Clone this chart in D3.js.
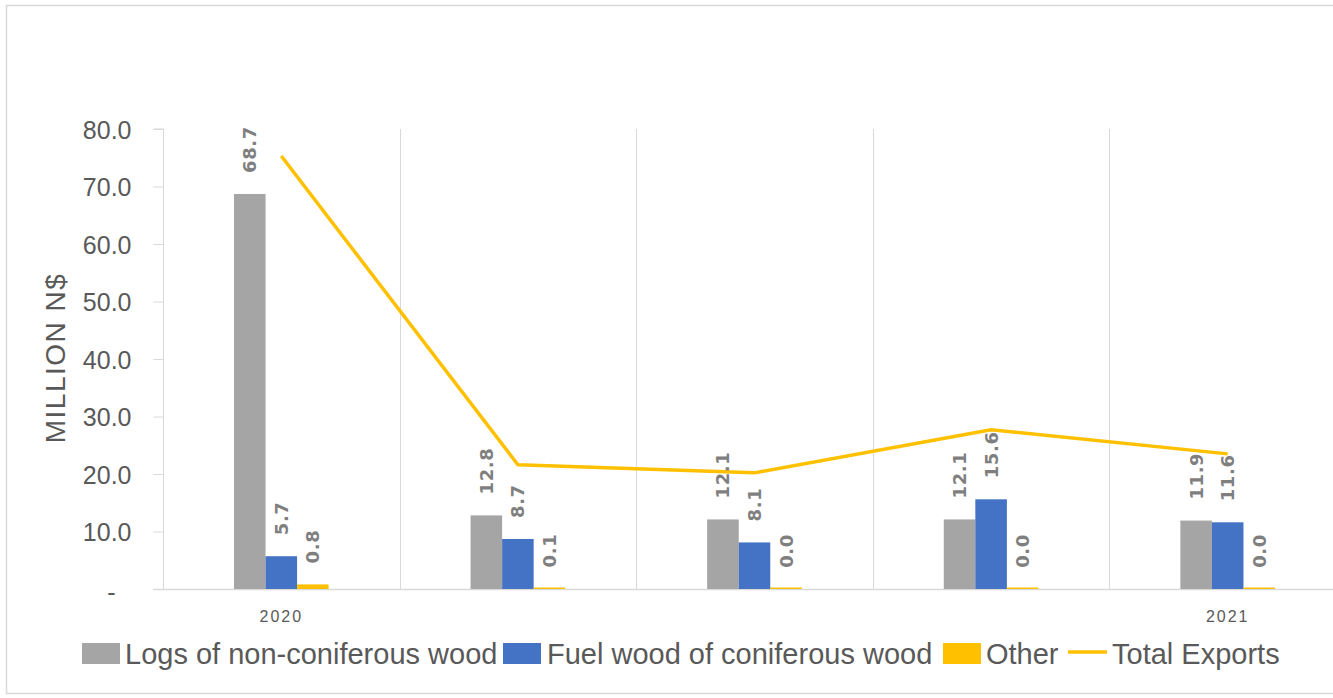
<!DOCTYPE html>
<html>
<head>
<meta charset="utf-8">
<script src="https://cdn.jsdelivr.net/npm/d3@7"></script>
<style>
  html, body { margin: 0; padding: 0; background: #ffffff; }
  svg { display: block; }
</style>
</head>
<body>
<svg id="chart" width="1333" height="698"></svg>
<script>
// ---- data ----
const periods = ["P1", "P2", "P3", "P4", "P5"];
const periodLabels = ["2020", "", "", "", "2021"];
const seriesNames = ["Logs of non-coniferous wood", "Fuel wood of coniferous wood", "Other"];
const logsNonConiferous = [68.7, 12.8, 12.1, 12.1, 11.9];
const fuelWoodConiferous = [5.7, 8.7, 8.1, 15.6, 11.6];
const otherExports = [0.8, 0.1, 0.04, 0.04, 0.04];
const totalExports = [75.3, 21.6, 20.2, 27.7, 23.5];
const yTicks = [0, 10, 20, 30, 40, 50, 60, 70, 80];
const lineName = "Total Exports";

const colors = ["#a5a5a5", "#4472c4", "#ffc000"];
const lineColor = "#ffc000";
const seriesValues = [logsNonConiferous, fuelWoodConiferous, otherExports];

const svg = d3.select("#chart");

// outer border
svg.append("rect")
  .attr("x", 6.5).attr("y", 5.5).attr("width", 1345).attr("height", 688)
  .attr("fill", "#fff").attr("stroke", "#d9d9d9").attr("stroke-width", 1.5);

const plot = { left: 163, right: 1346, top: 129, bottom: 589 };

const x = d3.scaleBand().domain(periods).range([plot.left, plot.right]).padding(0);
const bw = x.bandwidth();
const x1 = d3.scaleBand().domain(seriesNames).range([bw * 0.3, bw * 0.7]).padding(0);
const y = d3.scaleLinear().domain([0, 80]).range([plot.bottom, plot.top]);

// vertical gridlines at category boundaries
svg.append("g").selectAll("line")
  .data(periods.slice(1))
  .join("line")
  .attr("x1", d => Math.round(x(d)) + 0.5).attr("x2", d => Math.round(x(d)) + 0.5)
  .attr("y1", plot.top).attr("y2", plot.bottom)
  .attr("stroke", "#d9d9d9").attr("stroke-width", 1);

// y axis
const yAxis = d3.axisLeft(y)
  .tickValues(yTicks)
  .tickSize(10)
  .tickPadding(22)
  .tickFormat(d => d === 0 ? "-" : d.toFixed(1));
const yg = svg.append("g")
  .attr("transform", `translate(${plot.left + 0.5},0)`)
  .call(yAxis);
yg.select(".domain").attr("stroke", "#d9d9d9").attr("d", `M-10,${plot.top}H0V${plot.bottom}`);
yg.selectAll(".tick line").attr("stroke", "#d9d9d9");
yg.selectAll(".tick text")
  .attr("fill", "#595959")
  .style("font-family", "'Liberation Sans', Arial, sans-serif")
  .style("font-size", "25px")
  .attr("dy", "0.36em");
yg.selectAll(".tick").filter(d => d === 0).select("text").attr("x", -48).attr("dy", "0.45em");

// x axis line
svg.append("line")
  .attr("x1", plot.left - 10).attr("x2", 1333)
  .attr("y1", plot.bottom + 0.5).attr("y2", plot.bottom + 0.5)
  .attr("stroke", "#d9d9d9").attr("stroke-width", 1.5);

// x labels
svg.append("g").selectAll("text")
  .data(periods)
  .join("text")
  .attr("x", d => x(d) + bw / 2)
  .attr("y", 622)
  .attr("text-anchor", "middle")
  .attr("fill", "#595959")
  .style("font-family", "'Liberation Sans', Arial, sans-serif")
  .style("font-size", "16px")
  .style("letter-spacing", "2px")
  .text((d, i) => periodLabels[i]);

// bars
const barData = [];
periods.forEach((p, i) => {
  seriesNames.forEach((s, j) => {
    barData.push({ p, s, j, v: seriesValues[j][i] });
  });
});

svg.append("g").selectAll("rect")
  .data(barData)
  .join("rect")
  .attr("x", d => x(d.p) + x1(d.s))
  .attr("width", x1.bandwidth())
  .attr("y", d => Math.min(y(d.v), y(0) - 1.5))
  .attr("height", d => Math.max(y(0) - y(d.v), 1.5))
  .attr("fill", d => colors[d.j]);

// total line
const line = d3.line()
  .x((d, i) => x(periods[i]) + bw / 2)
  .y(d => y(d));
svg.append("path")
  .datum(totalExports)
  .attr("d", line)
  .attr("fill", "none")
  .attr("stroke", lineColor)
  .attr("stroke-width", 3.5)
  .attr("stroke-linejoin", "round");

// data labels (rotated), drawn above the line
svg.append("g").selectAll("text")
  .data(barData)
  .join("text")
  .attr("transform", d => `translate(${x(d.p) + x1(d.s) + x1.bandwidth() / 2},${y(d.v) - 21}) rotate(-90)`)
  .attr("dy", "0.36em")
  .attr("fill", "#7f7f7f")
  .style("font-family", "'DejaVu Sans', sans-serif")
  .style("font-weight", "bold")
  .style("font-size", "18px")
  .style("letter-spacing", "0.6px")
  .text(d => d.v.toFixed(1));

// y axis title
svg.append("text")
  .attr("transform", `translate(55,358) rotate(-90)`)
  .attr("text-anchor", "middle")
  .attr("dy", "0.36em")
  .attr("fill", "#595959")
  .style("font-family", "'Liberation Sans', Arial, sans-serif")
  .style("font-size", "28px")
  .style("letter-spacing", "1.5px")
  .text("MILLION N$");

// legend
const legendFont = "'Liberation Sans', Arial, sans-serif";
const legendItems = [
  { name: seriesNames[0], type: "rect", color: colors[0], kx: 82, tx: 125 },
  { name: seriesNames[1], type: "rect", color: colors[1], kx: 503, tx: 547 },
  { name: seriesNames[2], type: "rect", color: colors[2], kx: 943, tx: 986 },
  { name: lineName, type: "line", color: lineColor, kx: 1068, tx: 1112 }
];
const lg = svg.append("g");
legendItems.forEach(it => {
  if (it.type === "rect") {
    lg.append("rect").attr("x", it.kx).attr("y", 643).attr("width", 38).attr("height", 21).attr("fill", it.color);
  } else {
    lg.append("line").attr("x1", it.kx).attr("x2", it.kx + 39).attr("y1", 652).attr("y2", 652)
      .attr("stroke", it.color).attr("stroke-width", 3.5);
  }
  lg.append("text")
    .attr("x", it.tx).attr("y", 664)
    .attr("fill", "#595959")
    .style("font-family", legendFont)
    .style("font-size", "29px")
    .text(it.name);
});
</script>
</body>
</html>
